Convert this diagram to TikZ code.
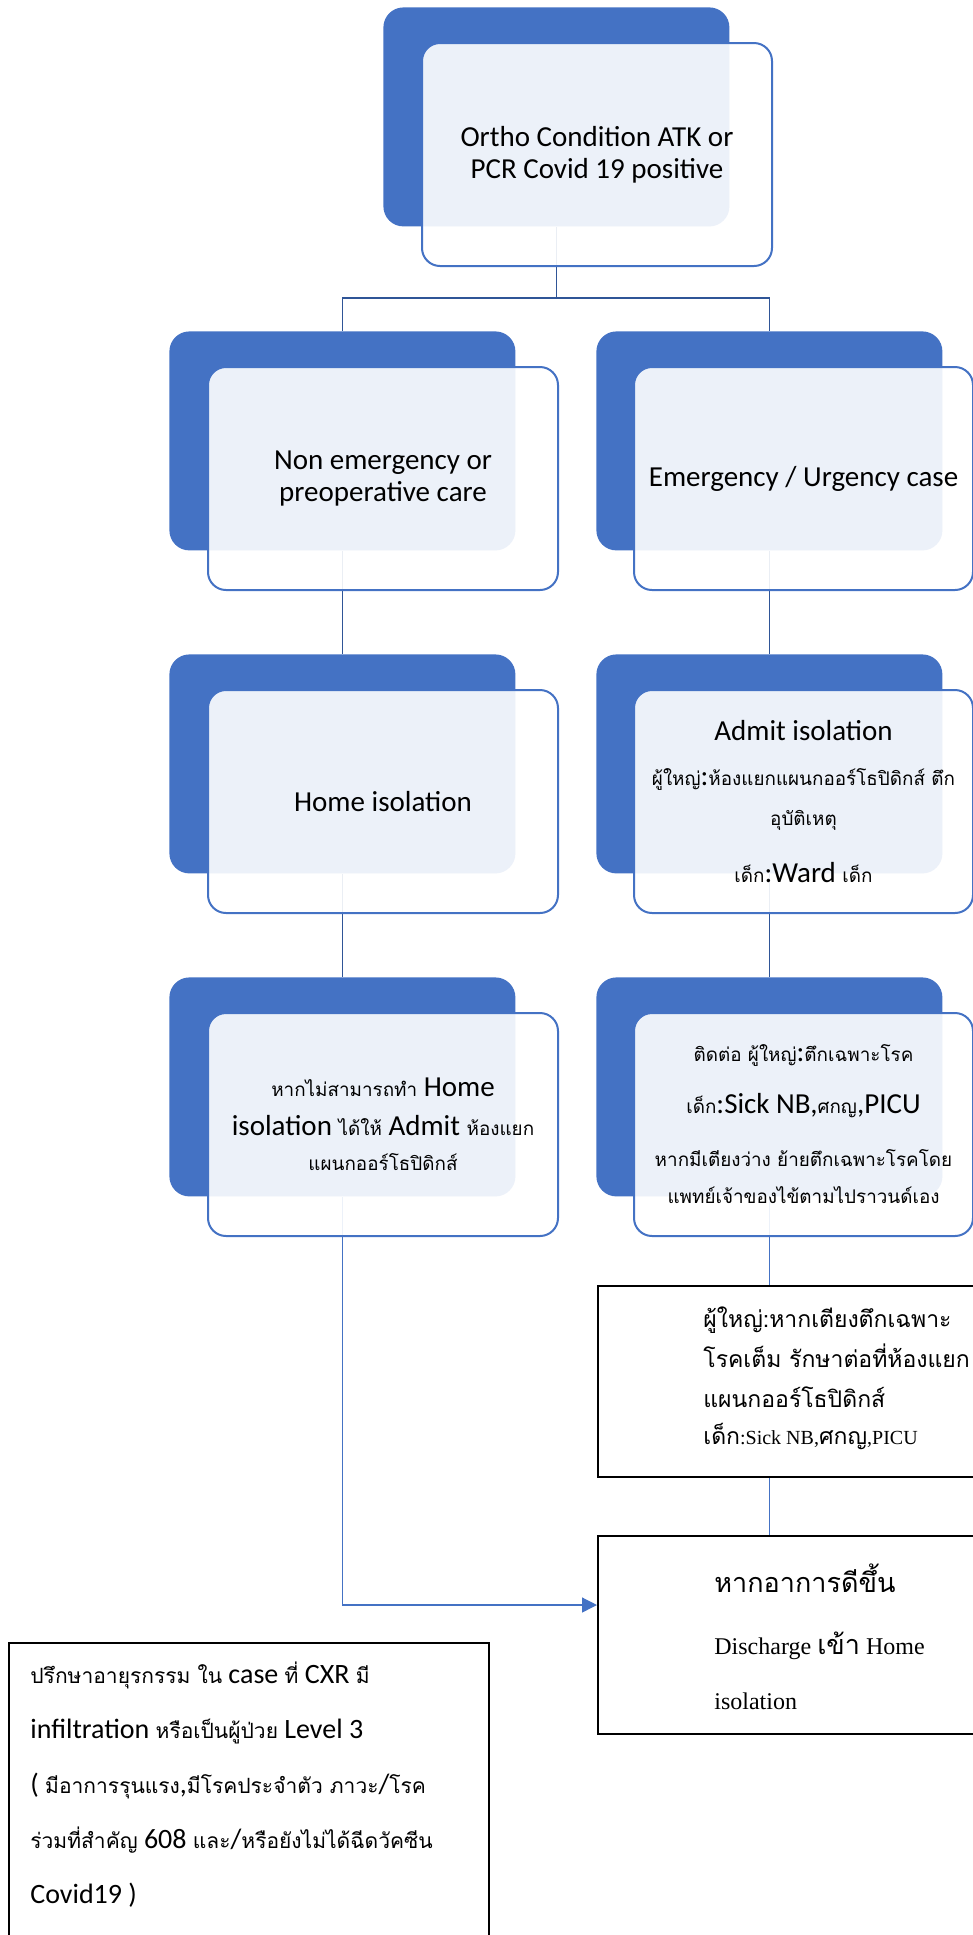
\documentclass[tikz,border=0pt]{standalone}
\usepackage{fontspec}
\setmainfont{Carlito}
\newfontfamily\thaifont[Script=Thai,Scale=0.65]{Loma}
\newfontfamily\thainote[Script=Thai,Scale=0.75]{Loma}
\newfontfamily\thaiplain[Script=Thai]{Loma}
\newfontfamily\timesfont{Liberation Serif}
\usetikzlibrary{arrows.meta}
\definecolor{smartblue}{HTML}{4472C4}
\definecolor{linkblue}{HTML}{2F5597}
\newcommand{\tha}[1]{{\thaifont #1}}
\newcommand{\thn}[1]{{\thainote #1}}

\begin{document}
\begin{tikzpicture}[x=0.5pt,y=-0.5pt,
  backbox/.style={anchor=north west,fill=smartblue,rounded corners=10pt,
    minimum width=173pt,minimum height=109.5pt,inner sep=0pt},
  frontbox/.style={anchor=north west,draw=smartblue,line width=1pt,fill=white,
    fill opacity=0.9,text opacity=1,rounded corners=9pt,minimum width=175pt,
    minimum height=111.5pt,align=center,inner sep=2pt,
    font=\fontsize{14.5}{16}\selectfont},
  plainbox/.style={anchor=north west,draw=black,line width=1pt,inner sep=0pt},
  boxtext/.style={anchor=north west,align=left,inner sep=0pt},
  treeline/.style={draw=linkblue,line width=0.9pt},
  thinline/.style={draw=smartblue,line width=0.65pt}]

  \useasboundingbox (0,0) rectangle (973,1935);

  % blue backs
  \node[backbox] (b1) at (383,7) {};
  \node[backbox] (b2l) at (169,331) {};
  \node[backbox] (b2r) at (596,331) {};
  \node[backbox] (b3l) at (169,654) {};
  \node[backbox] (b3r) at (596,654) {};
  \node[backbox] (b4l) at (169,977) {};
  \node[backbox] (b4r) at (596,977) {};

  % plain boxes
  \node[plainbox,minimum width=188pt,minimum height=95.5pt] (adult) at (597,1285) {};
  \node[plainbox,minimum width=188pt,minimum height=99pt] (dis) at (597,1535) {};
  \node[plainbox,minimum width=240pt,minimum height=160pt] (note) at (8,1642) {};

  % links
  \draw[treeline] (b1.south) -- ++(0,71) -| (b2l.north);
  \draw[treeline] (b1.south) -- ++(0,71) -| (b2r.north);
  \draw[treeline] (b2l.south) -- (b3l.north);
  \draw[treeline] (b2r.south) -- (b3r.north);
  \draw[treeline] (b3l.south) -- (b4l.north);
  \draw[treeline] (b3r.south) -- (b4r.north);
  \draw[thinline] (b4r.south) -- (b4r.south |- adult.north);
  \draw[thinline] (adult.south -| b4r.south) -- (b4r.south |- dis.north);
  \draw[thinline,-{Triangle[length=7.5pt,width=7.5pt]}] (b4l.south) |- ([yshift=15pt]dis.west);

  % white fronts
  \node[frontbox] (f1) at (421,42) {Ortho Condition ATK or\\PCR Covid 19 positive};
  \node[frontbox] (f2l) at (207,366) {Non emergency or\\preoperative care};
  \node[frontbox,minimum width=169.5pt] (f2r) at (633,366) {Emergency / Urgency case};
  \node[frontbox] (f3l) at (207,689) {Home isolation};
  \node[frontbox,minimum width=169.5pt] (f3r) at (633,689) {Admit isolation\\[6.5pt]\tha{ผู้ใหญ่}:\tha{ห้องแยกแผนกออร์โธปิดิกส์ ตึก}\\[4pt]\tha{อุบัติเหตุ}\\[12.5pt]\tha{เด็ก}:Ward \tha{เด็ก}};
  \node[frontbox] (f4l) at (207,1012) {\tha{หากไม่สามารถทำ} Home\\[3.5pt]isolation \tha{ได้ให้} Admit \tha{ห้องแยก}\\[1.5pt]\tha{แผนกออร์โธปิดิกส์}};
  \node[frontbox,minimum width=169.5pt] (f4r) at (633,1012) {\tha{ติดต่อ ผู้ใหญ่}:\tha{ตึกเฉพาะโรค}\\[10pt]\tha{เด็ก}:Sick NB,\tha{ศกญ},PICU\\[10.5pt]\tha{หากมีเตียงว่าง ย้ายตึกเฉพาะโรคโดย}\\[2.5pt]\tha{แพทย์เจ้าของไข้ตามไปราวนด์เอง}};

  % texts of the plain boxes
  \node[boxtext,font=\thaiplain\fontsize{11.5}{20}\selectfont] (adulttext) at (703,1306)
    {ผู้ใหญ่:หากเตียงตึกเฉพาะ\\โรคเต็ม รักษาต่อที่ห้องแยก\\แผนกออร์โธปิดิกส์\\[-1.5pt]เด็ก{\timesfont\fontsize{10}{20}\selectfont:Sick NB,}ศกญ{\timesfont\fontsize{10}{20}\selectfont,PICU}};
  \node[boxtext,font=\timesfont\fontsize{12}{27.5}\selectfont] (distext) at (714,1563)
    {{\thaiplain\fontsize{13.5}{20}\selectfont หากอาการดีขึ้น}\\[3.5pt]Discharge {\thaiplain\fontsize{13.5}{20}\selectfont เข้า} Home\\isolation};
  \node[boxtext,font=\fontsize{14}{27.5}\selectfont] (notetext) at (30,1661)
    {\thn{ปรึกษาอายุรกรรม ใน} case \thn{ที่} CXR \thn{มี}\\
     infiltration \thn{หรือเป็นผู้ป่วย} Level 3\\
     ( \thn{มีอาการรุนแรง},\thn{มีโรคประจำตัว ภาวะ}/\thn{โรค}\\
     \thn{ร่วมที่สำคัญ} 608 \thn{และ}/\thn{หรือยังไม่ได้ฉีดวัคซีน}\\
     Covid19 )};
\end{tikzpicture}
\end{document}
